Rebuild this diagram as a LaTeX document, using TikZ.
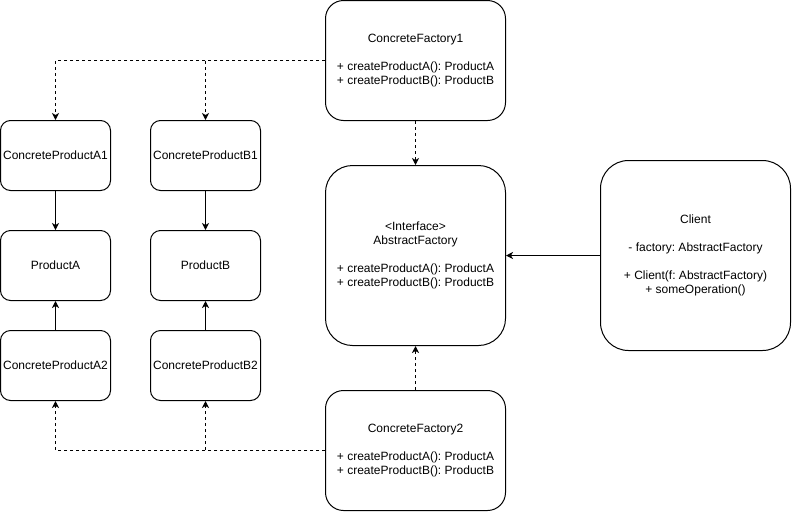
\documentclass[tikz,border=0pt]{standalone}
\usepackage{fontspec}
\setmainfont{Liberation Sans}
\usetikzlibrary{arrows.meta}
\frenchspacing
\begin{document}
\begin{tikzpicture}[x=1pt,y=-1pt,
  box/.style={draw=black,line width=1pt,rounded corners=#1,fill=white,inner sep=0pt,align=center,
    font=\fontsize{12}{14}\selectfont\frenchspacing},
  box/.default=10pt,
  tip/.style={-{Stealth[length=7pt,width=7pt,inset=2pt]}},
  conn/.style={line width=1pt,tip},
  dconn/.style={conn,dash pattern=on 3pt off 3pt}]
\useasboundingbox (0,0) rectangle (792,512);
\node[box=18pt,minimum width=180pt,minimum height=120pt] (cf1) at (415.5,60.5)
  {ConcreteFactory1\\[14pt]+ createProductA(): ProductA\\+ createProductB(): ProductB};
\node[box,minimum width=110pt,minimum height=70pt] (cpa1) at (55.5,155.5) {ConcreteProductA1};
\node[box,minimum width=110pt,minimum height=70pt] (cpb1) at (205.5,155.5) {ConcreteProductB1};
\node[box,minimum width=110pt,minimum height=70pt] (pa) at (55.5,265.5) {ProductA};
\node[box,minimum width=110pt,minimum height=70pt] (pb) at (205.5,265.5) {ProductB};
\node[box,minimum width=110pt,minimum height=70pt] (cpa2) at (55.5,365.5) {ConcreteProductA2};
\node[box,minimum width=110pt,minimum height=70pt] (cpb2) at (205.5,365.5) {ConcreteProductB2};
\node[box=27pt,minimum width=180pt,minimum height=180pt] (af) at (415.5,255.5)
  {<Interface>\\AbstractFactory\\[14pt]+ createProductA(): ProductA\\+ createProductB(): ProductB};
\node[box=28pt,minimum width=190pt,minimum height=190pt] (client) at (695.5,255.5)
  {Client\\[14pt]- factory: AbstractFactory\\[14pt]+ Client(f: AbstractFactory)\\+ someOperation()};
\node[box=18pt,minimum width=180pt,minimum height=120pt] (cf2) at (415.5,450.5)
  {ConcreteFactory2\\[14pt]+ createProductA(): ProductA\\+ createProductB(): ProductB};
\draw[dconn] (cf1.west) -| (cpa1.north);
\draw[dconn] (cf1.west) -| (cpb1.north);
\draw[dconn] (cf1.south) -- (af.north);
\draw[conn] (cpa1.south) -- (pa.north);
\draw[conn] (cpb1.south) -- (pb.north);
\draw[conn] (cpa2.north) -- (pa.south);
\draw[conn] (cpb2.north) -- (pb.south);
\draw[dconn] (cf2.west) -| (cpa2.south);
\draw[dconn] (cf2.west) -| (cpb2.south);
\draw[dconn] (cf2.north) -- (af.south);
\draw[conn] (client.west) -- (af.east);
\end{tikzpicture}
\end{document}
